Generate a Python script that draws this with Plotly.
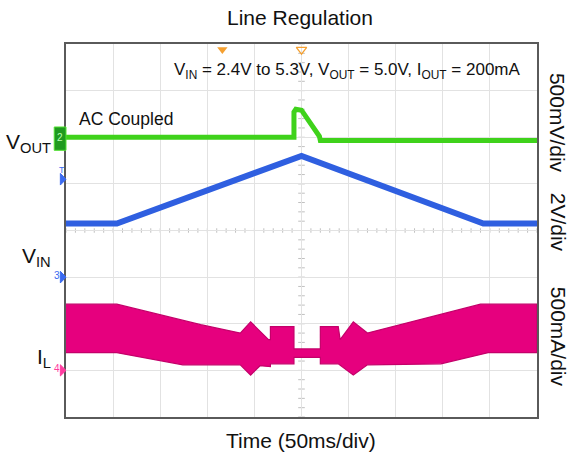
import plotly.graph_objects as go

FONT = "Liberation Sans, Arial, sans-serif"

# ---- data (time in ms, 50 ms/div) ----
# VOUT (AC coupled, mV, 500 mV/div)
vout_t = [-250, -8, -8, -6, 0, 19, 20, 250]
vout_mv = [0, 0, 270, 300, 290, 10, -35, -35]

# VIN (V, 2 V/div)
vin_t = [-250, -196, 0, 193, 250]
vin_v = [2.3, 2.3, 5.2, 2.3, 2.3]

# IL envelope (A, 500 mA/div)
il_up_t = [-250, -196, -107, -65, -54, -35, -33, -33, -8, -8, 20, 20, 39, 41, 55, 70, 190, 250]
il_up_a = [0.71, 0.71, 0.49, 0.40, 0.52, 0.33, 0.33, 0.47, 0.47, 0.23, 0.23, 0.47, 0.47, 0.33, 0.52, 0.40, 0.71, 0.71]
il_lo_t = [-250, -196, -126, -65, -54, -44, -33, -33, -8, -8, 20, 20, 39, 41, 55, 70, 148, 198, 250]
il_lo_a = [0.19, 0.19, 0.06, 0.06, -0.05, 0.05, 0.04, 0.07, 0.07, 0.14, 0.14, 0.07, 0.07, 0.06, -0.05, 0.06, 0.07, 0.19, 0.19]

trig_pos_t = [-84]   # filled trigger marker
center_t = [0]       # hollow marker

GREEN = "#3fd21b"
BLUE = "#2f5fe0"
MAG = "#e6007e"
ORANGE = "#f5a030"

fig = go.Figure()

# IL band
fig.add_trace(go.Scatter(
    x=il_up_t + il_lo_t[::-1], y=il_up_a + il_lo_a[::-1],
    fill="toself", fillcolor=MAG, mode="lines",
    line=dict(color="#c4006a", width=1.2), yaxis="y3", showlegend=False, hoverinfo="skip"))

# VIN
fig.add_trace(go.Scatter(x=vin_t, y=vin_v, mode="lines", line=dict(color=BLUE, width=6),
                         yaxis="y2", showlegend=False))
# VOUT
fig.add_trace(go.Scatter(x=vout_t, y=vout_mv, mode="lines", line=dict(color=GREEN, width=5),
                         yaxis="y", showlegend=False))

# top markers
fig.add_trace(go.Scatter(x=trig_pos_t, y=[940], mode="markers", cliponaxis=False,
                         marker=dict(symbol="triangle-down", size=9, color=ORANGE), showlegend=False))
fig.add_trace(go.Scatter(x=center_t, y=[940], mode="markers", cliponaxis=False,
                         marker=dict(symbol="triangle-down-open", size=9, color=ORANGE, line=dict(width=1.3)),
                         showlegend=False))

shapes = []
# minor ticks along center lines
for i in range(-25, 26):
    t = i * 10
    shapes.append(dict(type="line", xref="x", yref="paper", x0=t, x1=t, y0=0.494, y1=0.506,
                       line=dict(color="#c0c0c0", width=1), layer="below"))
for i in range(-30, 11):
    v = i * 100
    shapes.append(dict(type="line", xref="paper", yref="y", x0=0.493, x1=0.507, y0=v, y1=v,
                       line=dict(color="#c0c0c0", width=1), layer="below"))

# channel 2 marker box
shapes.append(dict(type="rect", xref="paper", yref="y", x0=-0.025, x1=0.0, y0=-140, y1=110,
                   fillcolor="#1f9a1f", line=dict(color="#52e032", width=1)))
# channel 3 / 4 / trigger arrows
def arrow(yref, yv, color, dy):
    return dict(type="path", xref="paper", yref=yref,
                path=f"M -0.012 {yv+dy} L 0 {yv} L -0.012 {yv-dy} Z",
                fillcolor=color, line=dict(color=color, width=1))
shapes.append(arrow("y2", 0, "#3a6af0", 0.25))
shapes.append(arrow("y3", 0, "#ff3ca0", 0.06))
shapes.append(arrow("y2", 4.2, "#3a6af0", 0.25))


def ann(text, x, y, size, xanchor="center", angle=0, color="#111"):
    return dict(text=text, x=x, y=y, xref="paper", yref="paper", showarrow=False,
                xanchor=xanchor, yanchor="middle", textangle=angle,
                font=dict(size=size, color=color, family=FONT))


annotations = [
    ann("Line Regulation", 0.497, 1.07, 21),
    ann("Time (50ms/div)", 0.499, -0.064, 21),
    ann("V<sub>IN</sub> = 2.4V to 5.3V, V<sub>OUT</sub> = 5.0V, I<sub>OUT</sub> = 200mA", 0.598, 0.928, 17),
    ann("AC Coupled", 0.024, 0.80, 17.5, xanchor="left"),
    ann("V<sub>OUT</sub>", -0.028, 0.735, 21, xanchor="right"),
    ann("V<sub>IN</sub>", -0.028, 0.428, 21, xanchor="right"),
    ann("I<sub>L</sub>", -0.028, 0.158, 21, xanchor="right"),
    ann("500mV/div", 1.045, 0.788, 21, angle=90),
    ann("2V/div", 1.045, 0.523, 21, angle=90),
    ann("500mA/div", 1.045, 0.2145, 21, angle=90),
    dict(text="2", x=-0.0125, y=0, xref="paper", yref="y", showarrow=False,
         xanchor="center", yanchor="middle", font=dict(size=10, color="#b8ffb0", family=FONT)),
    dict(text="3", x=-0.02, y=0, xref="paper", yref="y2", showarrow=False, yshift=2,
         xanchor="center", yanchor="middle", font=dict(size=10, color="#3a6af0", family=FONT)),
    dict(text="4", x=-0.02, y=0, xref="paper", yref="y3", showarrow=False, yshift=2,
         xanchor="center", yanchor="middle", font=dict(size=10, color="#ff3ca0", family=FONT)),
    dict(text="T", x=-0.008, y=4.2, xref="paper", yref="y2", showarrow=False, yshift=9,
         xanchor="center", yanchor="middle", font=dict(size=9, color="#3a6af0", family=FONT)),
]

ax_common = dict(showticklabels=False, ticks="", zeroline=False)
fig.update_layout(
    width=570, height=465,
    margin=dict(l=66, r=33, t=44, b=48),
    paper_bgcolor="white", plot_bgcolor="white",
    font=dict(family=FONT),
    xaxis=dict(range=[-250, 250], dtick=50, tick0=0, showgrid=True, gridcolor="#e2e2e2", gridwidth=1,
               showline=True, mirror=True, linecolor="#5a5a5a", linewidth=1.5, **ax_common),
    yaxis=dict(range=[-3000, 1000], dtick=500, tick0=0, showgrid=True, gridcolor="#e2e2e2", gridwidth=1,
               showline=True, mirror=True, linecolor="#5a5a5a", linewidth=1.5, **ax_common),
    yaxis2=dict(range=[-6, 10], overlaying="y", showgrid=False, **ax_common),
    yaxis3=dict(range=[-0.5, 3.5], overlaying="y", showgrid=False, **ax_common),
    shapes=shapes, annotations=annotations,
)

fig.write_html("out.html", config={"displayModeBar": False},
               post_script="document.body.style.margin='0';document.body.style.overflow='hidden';")
